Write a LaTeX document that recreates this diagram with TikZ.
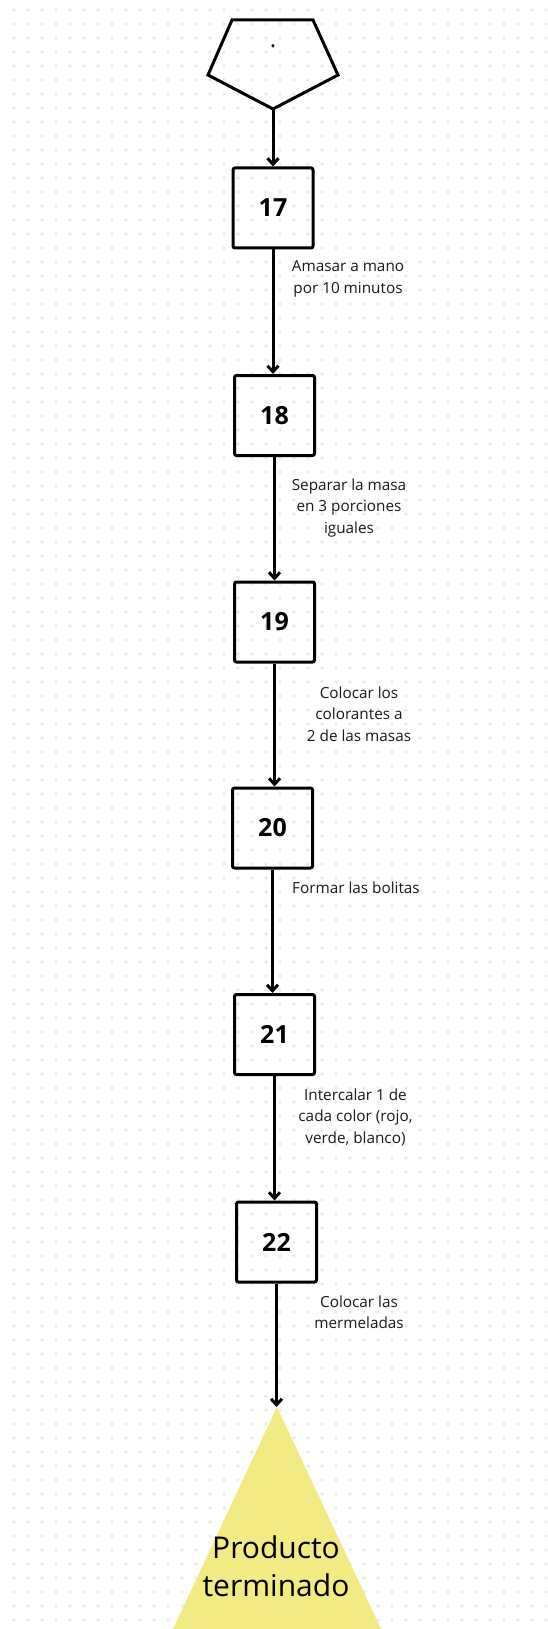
\documentclass[tikz,border=0pt]{standalone}
\usepackage{fontspec}
\setmainfont{Open Sans}
\usetikzlibrary{arrows.meta}
\definecolor{dotc}{HTML}{E8EAEE}
\definecolor{tri}{HTML}{F2EA82}
\definecolor{txt}{HTML}{1A1A1A}
\tikzset{
  stepbox/.style={draw=black, line width=3pt, rounded corners=2pt, minimum width=80pt, minimum height=80pt, inner sep=0pt, font=\fontsize{25}{30}\selectfont\bfseries},
  arr/.style={line width=3pt, -{Straight Barb[length=6pt,width=11pt,line width=3pt]}},
  lbl/.style={align=center, text=txt, inner sep=0pt, font=\fontsize{15.3}{21.5}\selectfont},
}
\begin{document}
\begin{tikzpicture}[x=1pt,y=-1pt]
\useasboundingbox (0,0) rectangle (547,1629);
\fill[white] (0,0) rectangle (547,1629);
\foreach \i in {1,...,39}{
  \foreach \j in {0,...,115}{
    \fill[dotc] (14*\i,10+14*\j) circle (1.9pt);
  }
}
% pentagon
\coordinate (pb) at (273,109);
\draw[line width=3pt, line join=miter] (232,20) -- (313,20) -- (338,75) -- (pb) -- (208,75) -- cycle;
\node[anchor=base, inner sep=0pt, font=\fontsize{24}{28}\selectfont] (pent) at (273,47.5) {.};
% boxes
\node[stepbox] (b17) at (273,208) {17};
\node[stepbox] (b18) at (274.5,415.5) {18};
\node[stepbox] (b19) at (274.5,622) {19};
\node[stepbox] (b20) at (272.5,828) {20};
\node[stepbox] (b21) at (274.5,1034.5) {21};
\node[stepbox] (b22) at (276.5,1242) {22};
% triangle
\coordinate (apex) at (277,1407);
\fill[tri] (apex) -- (381,1629) -- (173,1629) -- cycle;
\node[align=center, inner sep=0pt, font=\fontsize{30}{38}\selectfont] (prod) at (276,1566) {Producto\\terminado};
% arrows
\draw[arr] (pb) -- (pb |- b17.north);
\draw[arr] (b17.south) -- (b17.south |- b18.north);
\draw[arr] (b18.south) -- (b18.south |- b19.north);
\draw[arr] (b19.south) -- (b19.south |- b20.north);
\draw[arr] (b20.south) -- (b20.south |- b21.north);
\draw[arr] (b21.south) -- (b21.south |- b22.north);
\draw[arr] (b22.south) -- (b22.south |- apex);
% labels
\node[lbl] (l1) at (348,279) {Amasar a mano\\por 10 minutos};
\node[lbl] (l2) at (349,508) {Separar la masa\\en 3 porciones\\iguales};
\node[lbl] (l3) at (359,714) {Colocar los\\colorantes a\\2 de las masas};
\node[lbl] (l4) at (356,888) {Formar las bolitas};
\node[lbl] (l5) at (355.5,1117) {Intercalar 1 de\\cada color (rojo,\\verde, blanco)};
\node[lbl] (l6) at (359,1312) {Colocar las\\mermeladas};
\end{tikzpicture}
\end{document}
